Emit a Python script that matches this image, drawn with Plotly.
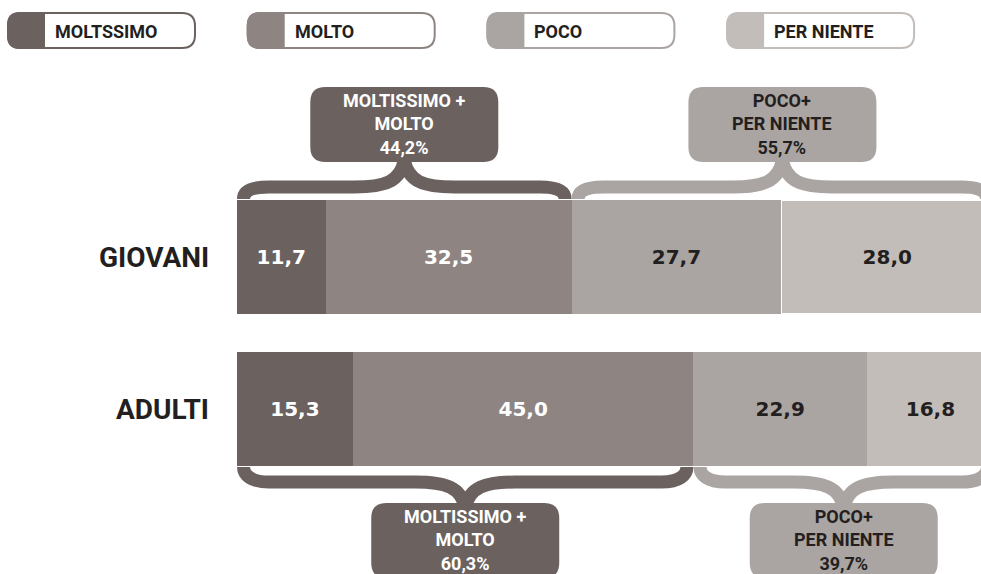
import plotly.graph_objects as go

# ---------------- data ----------------
groups = ["GIOVANI", "ADULTI"]
legend_labels = ["MOLTSSIMO", "MOLTO", "POCO", "PER NIENTE"]
moltissimo = [11.7, 15.3]
molto = [32.5, 45.0]
poco = [27.7, 22.9]
per_niente = [28.0, 16.8]

colors = ["#6b6260", "#8e8582", "#aaa5a2", "#c3bdba"]
text_colors = ["white", "white", "#231f20", "#231f20"]
DARK = "#231f20"

series = [moltissimo, molto, poco, per_niente]
sep_widths = [[0, 0], [0, 0], [0, 0], [1.5, 0]]


def fmt(v):
    return f"{v:.1f}".replace(".", ",")


# ---------------- geometry (layout only) ----------------
W, H = 981, 574
X0, SX = 237, 7.57      # pixel of value 0, pixels per unit
Y0, SY = 257, 152       # pixel of first category, pixels per category
BARW = 0.75


def tx(px):
    return (px - X0) / SX


def ty(py):
    return (py - Y0) / SY


def dpx(v):
    return X0 + v * SX


def P(x, y):
    return f"{tx(x):.4f},{ty(y):.4f}"


fig = go.Figure()
for vals, name, col, tcol, lw in zip(series, legend_labels, colors, text_colors, sep_widths):
    fig.add_trace(go.Bar(
        y=groups, x=vals, orientation="h", name=name, width=BARW,
        marker=dict(color=col, line=dict(width=lw, color="white")),
        text=[fmt(v) for v in vals], textposition="inside",
        insidetextanchor="middle", textangle=0, constraintext="none",
        textfont=dict(family="DejaVu Sans", size=20, color=tcol, weight="bold"),
        hoverinfo="skip",
    ))

shapes = []
annotations = []


def rrect(x0, y0, x1, y1, r):
    return (f"M {P(x0 + r, y0)} L {P(x1 - r, y0)} Q {P(x1, y0)} {P(x1, y0 + r)} "
            f"L {P(x1, y1 - r)} Q {P(x1, y1)} {P(x1 - r, y1)} L {P(x0 + r, y1)} "
            f"Q {P(x0, y1)} {P(x0, y1 - r)} L {P(x0, y0 + r)} Q {P(x0, y0)} {P(x0 + r, y0)} Z")


def brace_path(xa, xb, yb, s, d, p):
    xc = (xa + xb) / 2
    a = 6.5
    return (f"M {P(xa + a, yb + s * 1)} C {P(xa + a, yb + s * 9)} {P(xa + 14, yb + s * d)} {P(xa + 32, yb + s * d)} "
            f"L {P(xc - 50, yb + s * d)} C {P(xc - 20, yb + s * d)} {P(xc - 4, yb + s * (d + 5))} {P(xc, yb + s * p)} "
            f"C {P(xc + 4, yb + s * (d + 5))} {P(xc + 20, yb + s * d)} {P(xc + 50, yb + s * d)} "
            f"L {P(xb - 32, yb + s * d)} C {P(xb - 14, yb + s * d)} {P(xb - a, yb + s * 9)} {P(xb - a, yb + s * 1)}")


def add_brace(gi, start, end, col, tcol, label, top):
    xa, xb = dpx(start), dpx(end)
    xc = (xa + xb) / 2
    if top:
        yb = Y0 + (gi - BARW / 2) * SY
        s, d, p = -1, 13, 40
        by0, by1 = yb - 113, yb - 38
    else:
        yb = Y0 + (gi + BARW / 2) * SY
        s, d, p = 1, 16, 42
        by0, by1 = yb + 37, yb + 112
    shapes.append(dict(type="path", path=brace_path(xa, xb, yb, s, d, p),
                       line=dict(color=col, width=13), fillcolor="rgba(0,0,0,0)",
                       xref="x", yref="y", layer="above"))
    shapes.append(dict(type="path", path=rrect(xc - 94, by0, xc + 94, by1, 15),
                       line=dict(width=0), fillcolor=col, xref="x", yref="y", layer="above"))
    annotations.append(dict(x=tx(xc), y=ty((by0 + by1) / 2 - 1), xref="x", yref="y",
                            text=label, showarrow=False, align="center",
                            font=dict(family="Roboto", size=18, color=tcol, weight="bold")))


# braces derived from data
for gi, top in [(0, True), (1, False)]:
    pos = moltissimo[gi] + molto[gi]
    neg = poco[gi] + per_niente[gi]
    add_brace(gi, 0, pos, colors[0], "white",
              f"MOLTISSIMO +<br>MOLTO<br>{fmt(pos)}%", top)
    add_brace(gi, pos, pos + neg, colors[2], DARK,
              f"POCO+<br>PER NIENTE<br>{fmt(neg)}%", top)

# legend pills
for i, (lab, col) in enumerate(zip(legend_labels, colors)):
    x0 = 7 + i * 239.7
    x1 = x0 + 189
    y0, y1 = 12, 49
    r = 13
    shapes.append(dict(type="path", path=rrect(x0 + 1, y0 + 1, x1 - 1, y1 - 1, r),
                       line=dict(color=col, width=2), fillcolor="white",
                       xref="x", yref="y", layer="above"))
    cw = 38
    path = (f"M {P(x0 + cw, y0)} L {P(x0 + r, y0)} Q {P(x0, y0)} {P(x0, y0 + r)} "
            f"L {P(x0, y1 - r)} Q {P(x0, y1)} {P(x0 + r, y1)} L {P(x0 + cw, y1)} Z")
    shapes.append(dict(type="path", path=path, line=dict(width=0), fillcolor=col,
                       xref="x", yref="y", layer="above"))
    annotations.append(dict(x=tx(x0 + cw + 8), y=ty(31), xref="x", yref="y",
                            text=lab, showarrow=False, xanchor="left",
                            font=dict(family="Roboto", size=18, color=DARK, weight="bold")))

# row labels
for gi, g in enumerate(groups):
    annotations.append(dict(x=tx(211), y=gi, xref="x", yref="y", text=g,
                            showarrow=False, xanchor="right",
                            font=dict(family="Roboto", size=28, color=DARK, weight="bold")))

fig.update_layout(
    width=W, height=H, margin=dict(l=0, r=0, t=0, b=0),
    barmode="stack", showlegend=False,
    paper_bgcolor="white", plot_bgcolor="white",
    xaxis=dict(visible=False, range=[tx(0), tx(W)], fixedrange=True),
    yaxis=dict(visible=False, type="category", range=[ty(H), ty(0)], fixedrange=True),
    shapes=shapes, annotations=annotations,
)

fig.write_html("out.html", config={"displayModeBar": False})
